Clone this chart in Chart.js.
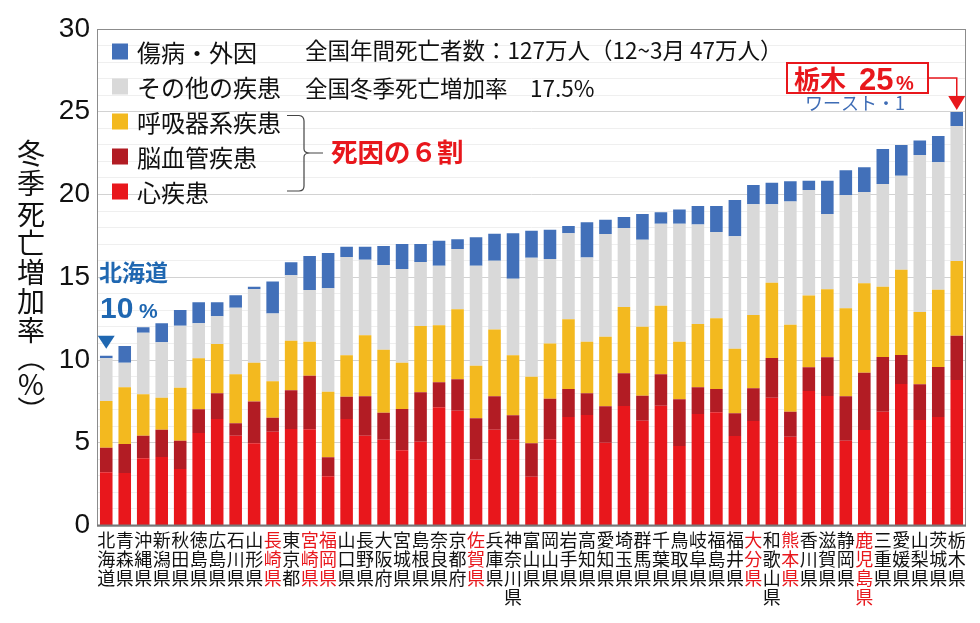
<!DOCTYPE html>
<html><head><meta charset="utf-8">
<script src="https://cdn.jsdelivr.net/npm/chart.js@4"></script>
<style>html,body{margin:0;padding:0;background:#fff}#wrap{width:980px;height:623px;position:relative}</style>
</head><body><div id="wrap"><canvas id="c" width="980" height="623"></canvas></div>
<script>
const prefectures = ['北海道','青森県','沖縄県','新潟県','秋田県','徳島県','広島県','石川県','山形県','長崎県','東京都','宮崎県','福岡県','山口県','長野県','大阪府','宮城県','島根県','奈良県','京都府','佐賀県','兵庫県','神奈川県','富山県','岡山県','岩手県','高知県','愛知県','埼玉県','群馬県','千葉県','鳥取県','岐阜県','福島県','福井県','大分県','和歌山県','熊本県','香川県','滋賀県','静岡県','鹿児島県','三重県','愛媛県','山梨県','茨城県','栃木県'];
const heart        = [3.21,3.17,4.06,4.14,3.41,5.59,6.44,5.43,4.97,5.66,5.83,5.82,2.97,6.44,5.43,5.18,4.54,5.06,7.14,6.94,3.98,5.79,5.18,2.95,5.21,6.56,6.68,5.00,7.22,6.33,7.24,4.80,6.74,6.84,5.41,6.31,7.72,5.37,8.13,7.82,5.12,5.77,6.88,8.55,6.37,6.56,8.79];
const cerebro      = [1.49,1.75,1.37,1.65,1.71,1.43,1.55,0.75,2.53,0.85,2.34,3.23,1.15,1.34,2.38,1.64,2.50,2.99,1.51,1.89,2.50,2.02,1.48,2.02,2.45,1.69,1.31,2.20,1.98,1.51,1.90,2.83,1.61,1.41,1.37,1.98,2.40,1.51,1.43,2.34,2.69,3.46,3.30,1.75,2.16,3.02,2.68];
const respiratory  = [2.82,3.43,2.50,1.93,3.21,3.08,2.98,2.96,2.34,2.20,3.00,2.05,3.96,2.50,3.68,3.80,2.80,4.00,3.45,4.23,3.18,4.04,3.62,4.02,3.33,4.21,3.11,4.21,4.00,4.17,4.14,3.47,3.83,4.27,3.90,4.43,4.55,5.25,4.33,4.11,5.31,5.40,4.25,5.16,4.37,4.67,4.51];
const otherDisease = [2.58,1.49,3.72,3.35,3.74,2.12,1.67,4.02,4.43,4.10,3.95,3.13,6.25,5.94,4.57,5.12,5.66,3.87,3.60,3.65,6.04,4.15,4.63,7.19,5.11,5.20,5.10,6.20,4.78,5.26,4.96,7.14,6.00,5.21,6.79,6.69,4.74,7.44,6.38,4.55,6.83,5.52,6.20,5.68,9.49,7.70,8.16];
const injury       = [0.15,1.01,0.33,1.15,0.95,1.27,0.85,0.75,0.16,1.93,0.78,2.06,2.14,0.63,0.79,1.15,1.51,1.09,1.51,0.58,1.71,1.63,2.75,1.63,1.77,0.44,2.12,0.87,0.66,1.55,0.68,0.86,1.13,1.58,2.20,1.16,1.30,1.23,0.56,2.01,1.51,1.49,2.12,1.85,0.88,1.58,0.84];
const seriesNames = ['心疾患','脳血管疾患','呼吸器系疾患','その他の疾患','傷病・外因'];
const redLabelPrefs = ['長崎県','宮崎県','福岡県','佐賀県','大分県','熊本県','鹿児島県'];
const yTickLabels = [0,5,10,15,20,25,30];

const RED='#E8171C', DKRED='#B21C24', ORANGE='#F3B91F', GRAY='#D9D9D9', BLUE='#4270B9';
const JP='"Noto Sans CJK JP", sans-serif';

const annot = {
  id:'annot',
  afterDraw(chart){
    const ctx=chart.ctx, a=chart.chartArea, xs=chart.scales.x, ys=chart.scales.y;
    ctx.save();
    // plot frame
    ctx.strokeStyle='#8c8c8c'; ctx.lineWidth=1;
    ctx.strokeRect(a.left+0.5, a.top+0.5, a.right-a.left-1, a.bottom-a.top);
    ctx.strokeStyle='#777'; ctx.lineWidth=2;
    ctx.beginPath(); ctx.moveTo(a.left, a.bottom); ctx.lineTo(a.right, a.bottom); ctx.stroke();

    // legend
    const ds = chart.data.datasets.slice().reverse();
    ctx.textBaseline='middle'; ctx.textAlign='left';
    ds.forEach((d,i)=>{
      const y = 51.5 + 35*i;
      ctx.fillStyle=d.backgroundColor; ctx.fillRect(112, y-8, 16, 16);
      ctx.fillStyle='#111'; ctx.font='24px '+JP;
      ctx.fillText(d.label, 137, y+1);
    });

    // header notes
    ctx.fillStyle='#111'; ctx.font='22.5px '+JP;
    ctx.fillText('全国年間死亡者数：127万人（12~3月 47万人）', 305, 50);
    ctx.fillText('全国冬季死亡増加率　17.5%', 305, 88);

    // bracket
    ctx.strokeStyle='#444'; ctx.lineWidth=1.2;
    ctx.beginPath();
    ctx.moveTo(287,115.5); ctx.lineTo(299,115.5); ctx.quadraticCurveTo(304,116,304,121);
    ctx.lineTo(304,149); ctx.quadraticCurveTo(304,153,310,153); ctx.lineTo(323,153);
    ctx.moveTo(310,153); ctx.quadraticCurveTo(304,153,304,157);
    ctx.lineTo(304,186); ctx.quadraticCurveTo(304,191,299,191); ctx.lineTo(287,191);
    ctx.stroke();
    ctx.fillStyle=RED; ctx.font='bold 26.5px '+JP;
    ctx.fillText('死因の６割', 331, 152);

    // Hokkaido annotation
    const hx = xs.getPixelForValue(0);
    const hTop = ys.getPixelForValue(heart[0]+cerebro[0]+respiratory[0]+otherDisease[0]+injury[0]);
    ctx.fillStyle='#1F67B1';
    ctx.font='bold 23px '+JP; ctx.fillText('北海道', 99, 272);
    ctx.textBaseline='alphabetic';
    ctx.font='bold 30px "Liberation Sans", Arial, sans-serif'; ctx.fillText('10', 100, 318);
    ctx.font='bold 21px "Liberation Sans", Arial, sans-serif'; ctx.fillText('%', 139, 318);
    ctx.beginPath(); ctx.moveTo(hx-8.5, hTop-20); ctx.lineTo(hx+8.5, hTop-20); ctx.lineTo(hx, hTop-7); ctx.closePath(); ctx.fill();

    // Tochigi annotation
    const n = prefectures.length-1;
    const tx = xs.getPixelForValue(n);
    const tTop = ys.getPixelForValue(heart[n]+cerebro[n]+respiratory[n]+otherDisease[n]+injury[n]);
    ctx.strokeStyle=RED; ctx.lineWidth=2;
    ctx.strokeRect(787, 63, 141, 30);
    ctx.fillStyle=RED;
    ctx.font='bold 26px '+JP; ctx.fillText('栃木', 794, 89);
    ctx.font='bold 31px "Liberation Sans", Arial, sans-serif'; ctx.fillText('25', 859, 90);
    ctx.font='bold 20px "Liberation Sans", Arial, sans-serif'; ctx.fillText('%', 896, 90);
    ctx.lineWidth=1.5;
    ctx.beginPath(); ctx.moveTo(928,78); ctx.lineTo(tx,78); ctx.lineTo(tx, tTop-15); ctx.stroke();
    ctx.beginPath(); ctx.moveTo(tx-8.5, tTop-16); ctx.lineTo(tx+8.5, tTop-16); ctx.lineTo(tx, tTop-2); ctx.closePath(); ctx.fill();
    ctx.fillStyle='#3E6CB5'; ctx.textBaseline='middle';
    ctx.font='18px '+JP; ctx.fillText('ワースト・1', 805, 103);

    // vertical y-axis title (vertical writing: parentheses rotated)
    ctx.fillStyle='#111'; ctx.textAlign='center'; ctx.font='28px '+JP;
    const tchars = ['冬','季','死','亡','増','加','率','（','%','）'];
    const tys = [153,183,214,243,272,301,330,358,384,410];
    tchars.forEach((c,i)=>{
      if (c==='（' || c==='）') {
        ctx.save(); ctx.translate(31, tys[i]); ctx.rotate(Math.PI/2);
        ctx.fillText(c, 0, 0); ctx.restore();
      } else {
        ctx.fillText(c, 31, tys[i]);
      }
    });
    ctx.restore();
  }
};

const mk = (label, data, color) => ({label, data, backgroundColor:color, borderWidth:0, barPercentage:0.68, categoryPercentage:1});

new Chart(document.getElementById('c'), {
  type:'bar',
  data:{
    labels: prefectures.map(p=>Array.from(p)),
    datasets:[
      mk(seriesNames[0], heart, RED),
      mk(seriesNames[1], cerebro, DKRED),
      mk(seriesNames[2], respiratory, ORANGE),
      mk(seriesNames[3], otherDisease, GRAY),
      mk(seriesNames[4], injury, BLUE)
    ]
  },
  options:{
    responsive:false, animation:false, devicePixelRatio:1,
    layout:{padding:{left:0, top:29, right:14, bottom:0}},
    plugins:{legend:{display:false}, tooltip:{enabled:false}},
    scales:{
      x:{
        stacked:true,
        grid:{display:false, drawTicks:false},
        border:{display:false},
        ticks:{
          autoSkip:false, maxRotation:0, minRotation:0, padding:5,
          font:{family:JP, size:18, lineHeight:1.06},
          color:(c)=> redLabelPrefs.includes(prefectures[c.index]) ? RED : '#111'
        },
        afterFit:(s)=>{ s.height = 97.5; }
      },
      y:{
        stacked:true, min:0, max:30,
        grid:{drawTicks:false, color:(c)=> (c.tick && yTickLabels.includes(c.tick.value)) ? '#d2d2d2' : '#efefef', lineWidth:1},
        border:{display:false},
        ticks:{
          autoSkip:false, stepSize:1, padding:7, color:'#111',
          font:{family:'"Liberation Sans", Arial, sans-serif', size:28},
          callback:(v)=> yTickLabels.includes(v) ? String(v) : ''
        },
        afterFit:(s)=>{ s.width = 97; }
      }
    }
  },
  plugins:[annot]
});
</script>
</body></html>
